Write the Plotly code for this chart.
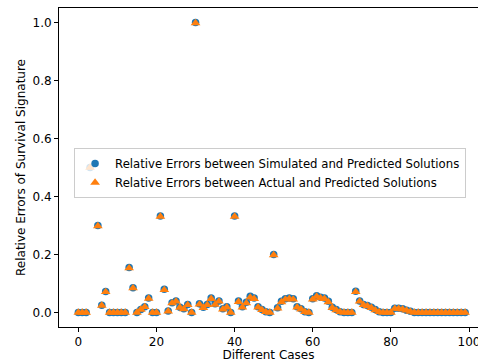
import plotly.graph_objects as go

cases = list(range(100))
sim_errors = [0, 0, 0, 0.5, None, 0.30, 0.025, 0.072, 0, 0,
              0, 0, 0, 0.155, 0.085, 0, 0.01, 0.02, 0.05, 0,
              0, 0.333, 0.08, 0.005, 0.034, 0.04, 0.018, 0.013, 0.028, 0,
              1.0, 0.03, 0.018, 0.028, 0.05, 0.03, 0.04, 0.013, 0.02, 0,
              0.333, 0.04, 0.02, 0.035, 0.056, 0.05, 0.02, 0.01, 0.003, 0,
              0.2, 0.016, 0.039, 0.047, 0.05, 0.047, 0.02, 0.013, 0.003, 0,
              0.047, 0.058, 0.053, 0.05, 0.039, 0.018, 0.01, 0.003, 0, 0,
              0, 0.073, 0.04, 0.028, 0.024, 0.018, 0.01, 0.003, 0, 0,
              0, 0.015, 0.015, 0.013, 0.008, 0.004, 0, 0, 0, 0,
              0, 0, 0, 0, 0, 0, 0, 0, 0, 0]
act_errors = [0, 0, 0, 0.5, None, 0.298, 0.024, 0.071, 0, 0,
              0, 0, 0, 0.153, 0.084, 0, 0.01, 0.019, 0.048, 0,
              0, 0.331, 0.078, 0.004, 0.032, 0.038, 0.017, 0.012, 0.026, 0,
              0.998, 0.028, 0.016, 0.026, 0.047, 0.027, 0.038, 0.011, 0.018, 0,
              0.331, 0.037, 0.018, 0.032, 0.052, 0.047, 0.018, 0.009, 0.002, 0,
              0.198, 0.014, 0.036, 0.045, 0.047, 0.045, 0.018, 0.011, 0.002, 0,
              0.045, 0.055, 0.05, 0.047, 0.036, 0.016, 0.008, 0.002, 0, 0,
              0, 0.071, 0.038, 0.026, 0.022, 0.016, 0.008, 0.002, 0, 0,
              0, 0.013, 0.013, 0.011, 0.007, 0.003, 0, 0, 0, 0,
              0, 0, 0, 0, 0, 0, 0, 0, 0, 0]

names = ["Relative Errors between Simulated and Predicted Solutions",
         "Relative Errors between Actual and Predicted Solutions"]

fig = go.Figure()
fig.add_trace(go.Scatter(x=cases, y=sim_errors, mode="markers", name=names[0],
                         marker=dict(symbol="circle", size=7.5, color="#1f77b4", line=dict(width=0))))
fig.add_trace(go.Scatter(x=cases, y=act_errors, mode="markers", name=names[1],
                         marker=dict(symbol="triangle-up", size=8.5, color="#ff7f0e", line=dict(width=0))))

font = "DejaVu Sans"
fs = 12
axis_common = dict(showgrid=False, zeroline=False, showline=True, linecolor="black", linewidth=1,
                   ticks="outside", ticklen=4, tickcolor="black", automargin=False,
                   tickfont=dict(family=font, size=fs, color="black"))
fig.update_layout(
    width=478, height=362,
    margin=dict(l=59, r=0, t=8, b=35, autoexpand=False),
    paper_bgcolor="white", plot_bgcolor="white",
    font=dict(family=font, size=fs, color="black"),
    xaxis=dict(range=[-4.95, 102.3], tickvals=[0, 20, 40, 60, 80, 100], mirror=True,
               ticklabeloverflow="allow",
               title=dict(text="Different Cases", standoff=4, font=dict(family=font, size=fs)),
               **axis_common),
    yaxis=dict(range=[-0.05, 1.05], tickvals=[0, 0.2, 0.4, 0.6, 0.8, 1.0], tickformat=".1f",
               title=dict(text="Relative Errors of Survival Signature", standoff=4,
                          font=dict(family=font, size=fs)),
               **axis_common),
    legend=dict(x=0.036, y=0.561, xanchor="left", yanchor="top",
                bgcolor="rgba(255,255,255,0.8)", bordercolor="#cccccc", borderwidth=1,
                font=dict(family=font, size=11.7), tracegroupgap=0, itemsizing="trace"),
    showlegend=True,
)
fig.write_html("out.html")
